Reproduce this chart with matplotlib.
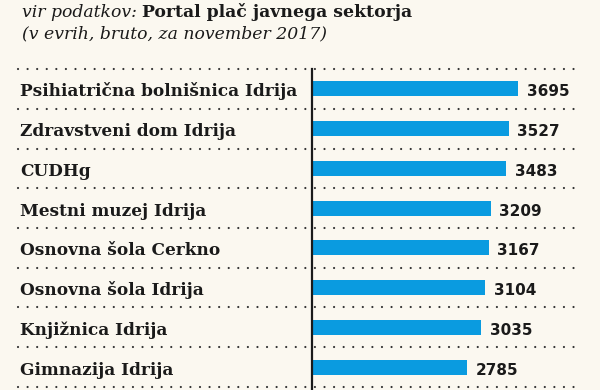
import matplotlib
matplotlib.use("Agg")
import matplotlib.pyplot as plt
from matplotlib.transforms import blended_transform_factory

# data
institutions = ["Psihiatrična bolnišnica Idrija", "Zdravstveni dom Idrija", "CUDHg",
                "Mestni muzej Idrija", "Osnovna šola Cerkno", "Osnovna šola Idrija",
                "Knjižnica Idrija", "Gimnazija Idrija"]
salaries = [3695, 3527, 3483, 3209, 3167, 3104, 3035, 2785]
source_lead = "vir podatkov:"
source_name = "Portal plač javnega sektorja"
subtitle = "(v evrih, bruto, za november 2017)"

bg = "#fbf8f0"
blue = "#0a9be0"
ink = "#1a1a1a"
serif = "DejaVu Serif"

fig = plt.figure(figsize=(6, 3.9), dpi=100, facecolor=bg)
W, H = 600, 390

# bar area: x=0 at px 312, right edge px 575; rows start at px 69
ax = fig.add_axes([312 / W, 0, (575 - 312) / W, (H - 69) / H])
ax.set_facecolor(bg)
row_h = 39.75
ax.set_ylim((H - 69) / row_h, 0)
ax.set_xlim(0, (575 - 312) / 0.0558)

ypos = [i + 0.5 for i in range(len(salaries))]
ax.barh(ypos, salaries, height=15 / row_h, color=blue)

for s in ["top", "right", "bottom"]:
    ax.spines[s].set_visible(False)
ax.spines["left"].set_linewidth(1.6)
ax.spines["left"].set_color(ink)
ax.set_xticks([])
ax.set_yticks([])

# dotted separators running under labels too
x0 = (18 - 312) / (575 - 312)
for k in range(len(salaries) + 1):
    ax.plot([x0, 1], [k, k], transform=blended_transform_factory(ax.transAxes, ax.transData),
            clip_on=False, color="#333333", linestyle=(0, (0.01, 4.3)), linewidth=1.6,
            dash_capstyle="round", zorder=0)

lab_tr = blended_transform_factory(fig.transFigure, ax.transData)
for y, name, v in zip(ypos, institutions, salaries):
    ax.text(20 / W, y + 0.19, name, transform=lab_tr, family=serif, fontweight="bold",
            fontsize=12.2, color=ink, va="baseline", ha="left")
    ax.annotate(str(v), xy=(v, y + 0.19), xytext=(6, 0), textcoords="offset points",
                family="DejaVu Sans", fontweight="bold", fontsize=11, color=ink,
                va="baseline", ha="left")

t1 = fig.text(22 / W, 1 - 17 / H, source_lead + " ", family=serif, style="italic",
              fontsize=12.4, color=ink, va="baseline")
plt.annotate(source_name, xy=(1, 0), xycoords=t1, va="bottom", ha="left",
             family=serif, fontweight="bold", fontsize=12.4, color=ink)
fig.text(22 / W, 1 - 38 / H, subtitle, family=serif, style="italic",
         fontsize=12.4, color=ink, va="baseline")

fig.savefig("out.png", dpi=100, facecolor=bg)
